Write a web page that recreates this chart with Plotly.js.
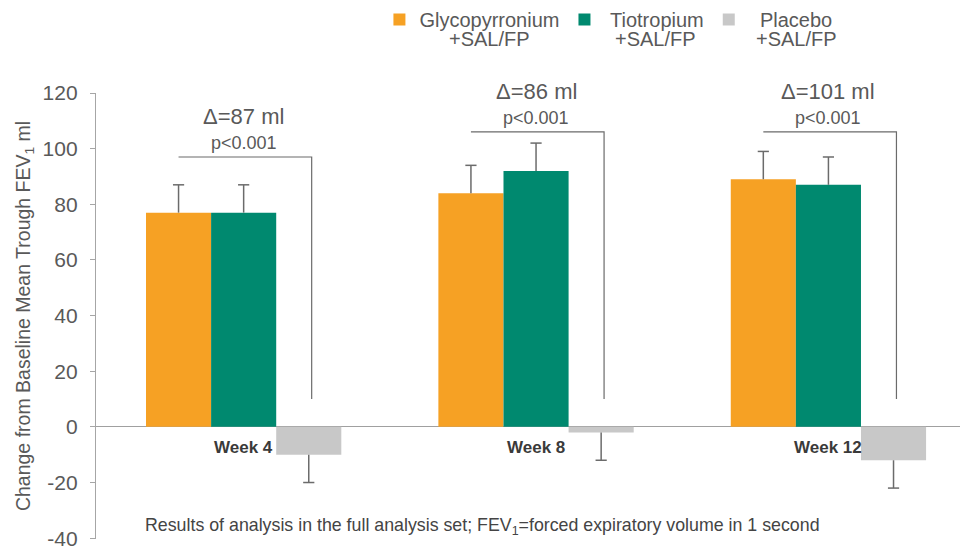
<!DOCTYPE html>
<html>
<head>
<meta charset="utf-8">
<script src="https://cdn.plot.ly/plotly-3.0.1.min.js"></script>
<style>html,body{margin:0;padding:0;background:#fff;}#chart{width:963px;height:551px;}</style>
</head>
<body>
<div id="chart"></div>
<script>
// ---- data ----
const weeks = ["Week 4", "Week 8", "Week 12"];
const seriesNames = ["Glycopyrronium", "Tiotropium", "Placebo"];
const seriesSub = ["+SAL/FP", "+SAL/FP", "+SAL/FP"];
const glycopyrronium = [77, 84, 89];
const tiotropium = [77, 92, 87];
const placebo = [-10, -2, -12];
const glycoErr = [10, 10, 10];
const tiotErr = [10, 10, 10];
const placeboErr = [10, 10, 10];
const deltaLabels = ["Δ=87 ml", "Δ=86 ml", "Δ=101 ml"];
const pLabels = ["p<0.001", "p<0.001", "p<0.001"];
const bracketTop = [97, 106, 106];
const bracketBottom = [10, 10, 10];
const yTicks = [-40, -20, 0, 20, 40, 60, 80, 100, 120];
const yTickText = ["-40", "-20", "0", "20", "40", "60", "80", "100", "120"];

// ---- style ----
const colors = ["#F6A124", "#00896F", "#C8C8C8"];
const legendPad = ["", "\u00a0", "\u00a0\u00a0"];
const barGap = 0.332;
const w = (1 - barGap) / 3;
const font = "Liberation Sans, Arial, sans-serif";
const grey = "#595959";
const errColor = "#6b6b6b";
const M = {l: 96, r: 3, t: 93, b: 12};
const plotW = 963 - M.l - M.r, plotB = 551 - M.b, plotH = plotB - M.t;
const px2paperX = px => (px - M.l) / plotW;
const px2paperY = py => (plotB - py) / plotH;

const xIdx = weeks.map((_, i) => i);
const allVals = [glycopyrronium, tiotropium, placebo];
const allErr = [glycoErr, tiotErr, placeboErr];
const traces = [];
allVals.forEach((vals, k) => {
  const errs = allErr[k];
  traces.push({
    type: "bar", x: xIdx, y: vals, name: legendPad[k] + seriesNames[k],
    marker: {color: colors[k], line: {width: 0}},
    error_y: {type: "data", symmetric: false,
      array: vals.map((v, i) => v >= 0 ? errs[i] : 0),
      arrayminus: vals.map((v, i) => v < 0 ? errs[i] : 0),
      color: errColor, thickness: 1.5, width: 0},
    hoverinfo: "y"
  });
});
// error-bar end caps (outer end only)
allVals.forEach((vals, k) => {
  traces.push({
    type: "scatter", mode: "markers", showlegend: false, hoverinfo: "skip",
    x: xIdx.map(i => i + (k - 1) * w),
    y: vals.map((v, i) => v >= 0 ? v + allErr[k][i] : v - allErr[k][i]),
    marker: {symbol: "line-ew", size: 8, line: {color: errColor, width: 1.5}}
  });
});

const shapes = [];
const annotations = [];
weeks.forEach((wk, i) => {
  const x0 = i - w, x1 = i + w + 0.01;
  shapes.push({type: "path", xref: "x", yref: "y",
    path: `M ${x0} ${bracketTop[i]} L ${x1} ${bracketTop[i]} L ${x1} ${bracketBottom[i]}`,
    line: {color: errColor, width: 1.2}});
  annotations.push({x: i, y: bracketTop[i], xref: "x", yref: "y", text: pLabels[i],
    showarrow: false, yanchor: "middle", yshift: 14, font: {family: font, size: 18, color: grey}});
  annotations.push({x: i, y: bracketTop[i], xref: "x", yref: "y", text: deltaLabels[i],
    showarrow: false, yanchor: "middle", yshift: 40, font: {family: font, size: 22, color: grey}});
  annotations.push({x: i, y: 0, xref: "x", yref: "y", text: "<b>" + wk + "</b>",
    showarrow: false, yanchor: "middle", yshift: -21, font: {family: font, size: 17, color: "#3a3a3a"}});
});
// second lines of legend labels
const subX = [489, 655, 796];
seriesSub.forEach((s, k) => {
  annotations.push({x: px2paperX(subX[k]), y: px2paperY(39), xref: "paper", yref: "paper",
    text: s, showarrow: false, xanchor: "center", yanchor: "middle",
    font: {family: font, size: 20, color: grey}});
});
annotations.push({x: px2paperX(143), y: px2paperY(526), xref: "paper", yref: "paper",
  xanchor: "left", yanchor: "middle", showarrow: false,
  text: "Results of analysis in the full analysis set; FEV<sub>1</sub>=forced expiratory volume in 1 second",
  font: {family: font, size: 17.8, color: "#444"}});

const layout = {
  width: 963, height: 551,
  margin: M,
  paper_bgcolor: "#fff", plot_bgcolor: "#fff",
  barmode: "group", bargap: barGap, bargroupgap: 0,
  showlegend: true,
  legend: {orientation: "h", xref: "container", yref: "container", x: 0.394, y: 1.0, xanchor: "left", yanchor: "top",
    font: {family: font, size: 20, color: grey}, itemclick: false, traceorder: "normal"},
  xaxis: {type: "linear", range: [-0.505, 2.45], showticklabels: false, showline: false, ticks: "", showgrid: false, zeroline: false, fixedrange: true},
  yaxis: {range: [-40.3, 120], tickvals: yTicks, ticktext: yTickText, ticks: "outside", ticklen: 5, tickcolor: "#a6a6a6",
    ticklabelstandoff: 8, ticklabeloverflow: "allow",
    showline: true, linecolor: "#a6a6a6", linewidth: 1.2, showgrid: false,
    zeroline: true, zerolinecolor: "#a0a0a0", zerolinewidth: 1.2,
    tickfont: {family: font, size: 21, color: grey},
    title: {text: "Change from Baseline Mean Trough FEV<sub>1</sub> ml", font: {family: font, size: 19.5, color: grey}, standoff: 6},
    automargin: false},
  shapes: shapes, annotations: annotations
};
Plotly.newPlot("chart", traces, layout, {displayModeBar: false, staticPlot: true});
</script>
</body>
</html>
